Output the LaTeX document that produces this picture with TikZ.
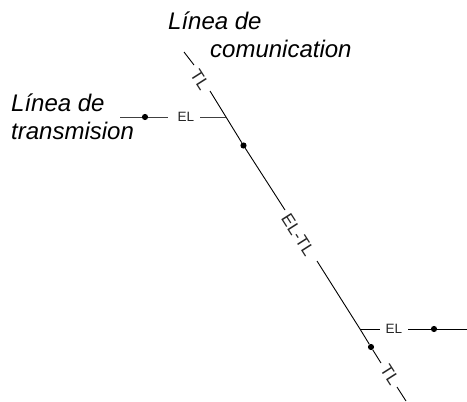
\documentclass[tikz,border=0pt]{standalone}
\usepackage{fontspec}
\setmainfont{Liberation Sans}
\tikzset{
  x=1pt,y=-1pt,
  wire/.style={draw=black,line width=0.9pt},
  feeder/.style={draw=black!75,line width=1pt},
  junction/.style={circle,fill=black,draw=none,inner sep=0pt,minimum size=6.2pt},
  heading/.style={anchor=base west,inner sep=0pt,font=\fontsize{24}{28}\selectfont\itshape,text=black},
  code/.style={inner sep=0pt,font=\fontsize{13.5}{15}\selectfont,text=black!85},
  slantcode/.style={inner sep=0pt,font=\fontsize{17}{19}\selectfont,text=black!85,rotate=-57.5},
}
\begin{document}
\begin{tikzpicture}
\useasboundingbox (0,0) rectangle (467,402);
% text
\node[heading] (h1) at (168,29) {Línea de};
\node[heading] (h2) at (210,57) {comunication};
\node[heading] (h3) at (11,111) {Línea de};
\node[heading] (h4) at (11,139) {transmision};
% main line end points and gaps
\coordinate (top) at (184,52);
\coordinate (g1a) at (194,65);
\coordinate (g1b) at (210,91);
\coordinate (j1) at (226,117);
\coordinate (g2a) at (285,210);
\coordinate (g2b) at (317,261);
\coordinate (j2) at (360,329);
\coordinate (g3a) at (381,363);
\coordinate (g3b) at (397,387);
\coordinate (bot) at (406,401);
% side line ends
\coordinate (lend) at (120,117);
\coordinate (rend) at (467,329);
\coordinate (l1) at (168,117);
\coordinate (l2) at (200,117);
\coordinate (r1) at (380,329);
\coordinate (r2) at (408,329);
% labels
\node[slantcode] (tl1) at (200,80) {TL};
\node[slantcode] (eltl) at (298,235) {EL-TL};
\node[slantcode] (tl2) at (390,375) {TL};
\node[code] (el1) at (186,117) {EL};
\node[code] (el2) at (394,329) {EL};
% dots
\node[junction] (d1) at (145,117) {};
\node[junction] (d2) at (243.5,145.5) {};
\node[junction] (d3) at (434,329) {};
\node[junction] (d4) at (371,347) {};
% connectors
\draw[wire] (top) -- (g1a);
\draw[wire] (g1b) -- (j1) -- (d2) -- (g2a);
\draw[wire] (g2b) -- (j2) -- (d4) -- (g3a);
\draw[wire] (g3b) -- (bot);
\draw[feeder] (lend) -- (d1) -- (l1);
\draw[feeder] (l2) -- (j1);
\draw[wire] (j2) -- (r1);
\draw[wire] (r2) -- (d3) -- (rend);
\end{tikzpicture}
\end{document}
